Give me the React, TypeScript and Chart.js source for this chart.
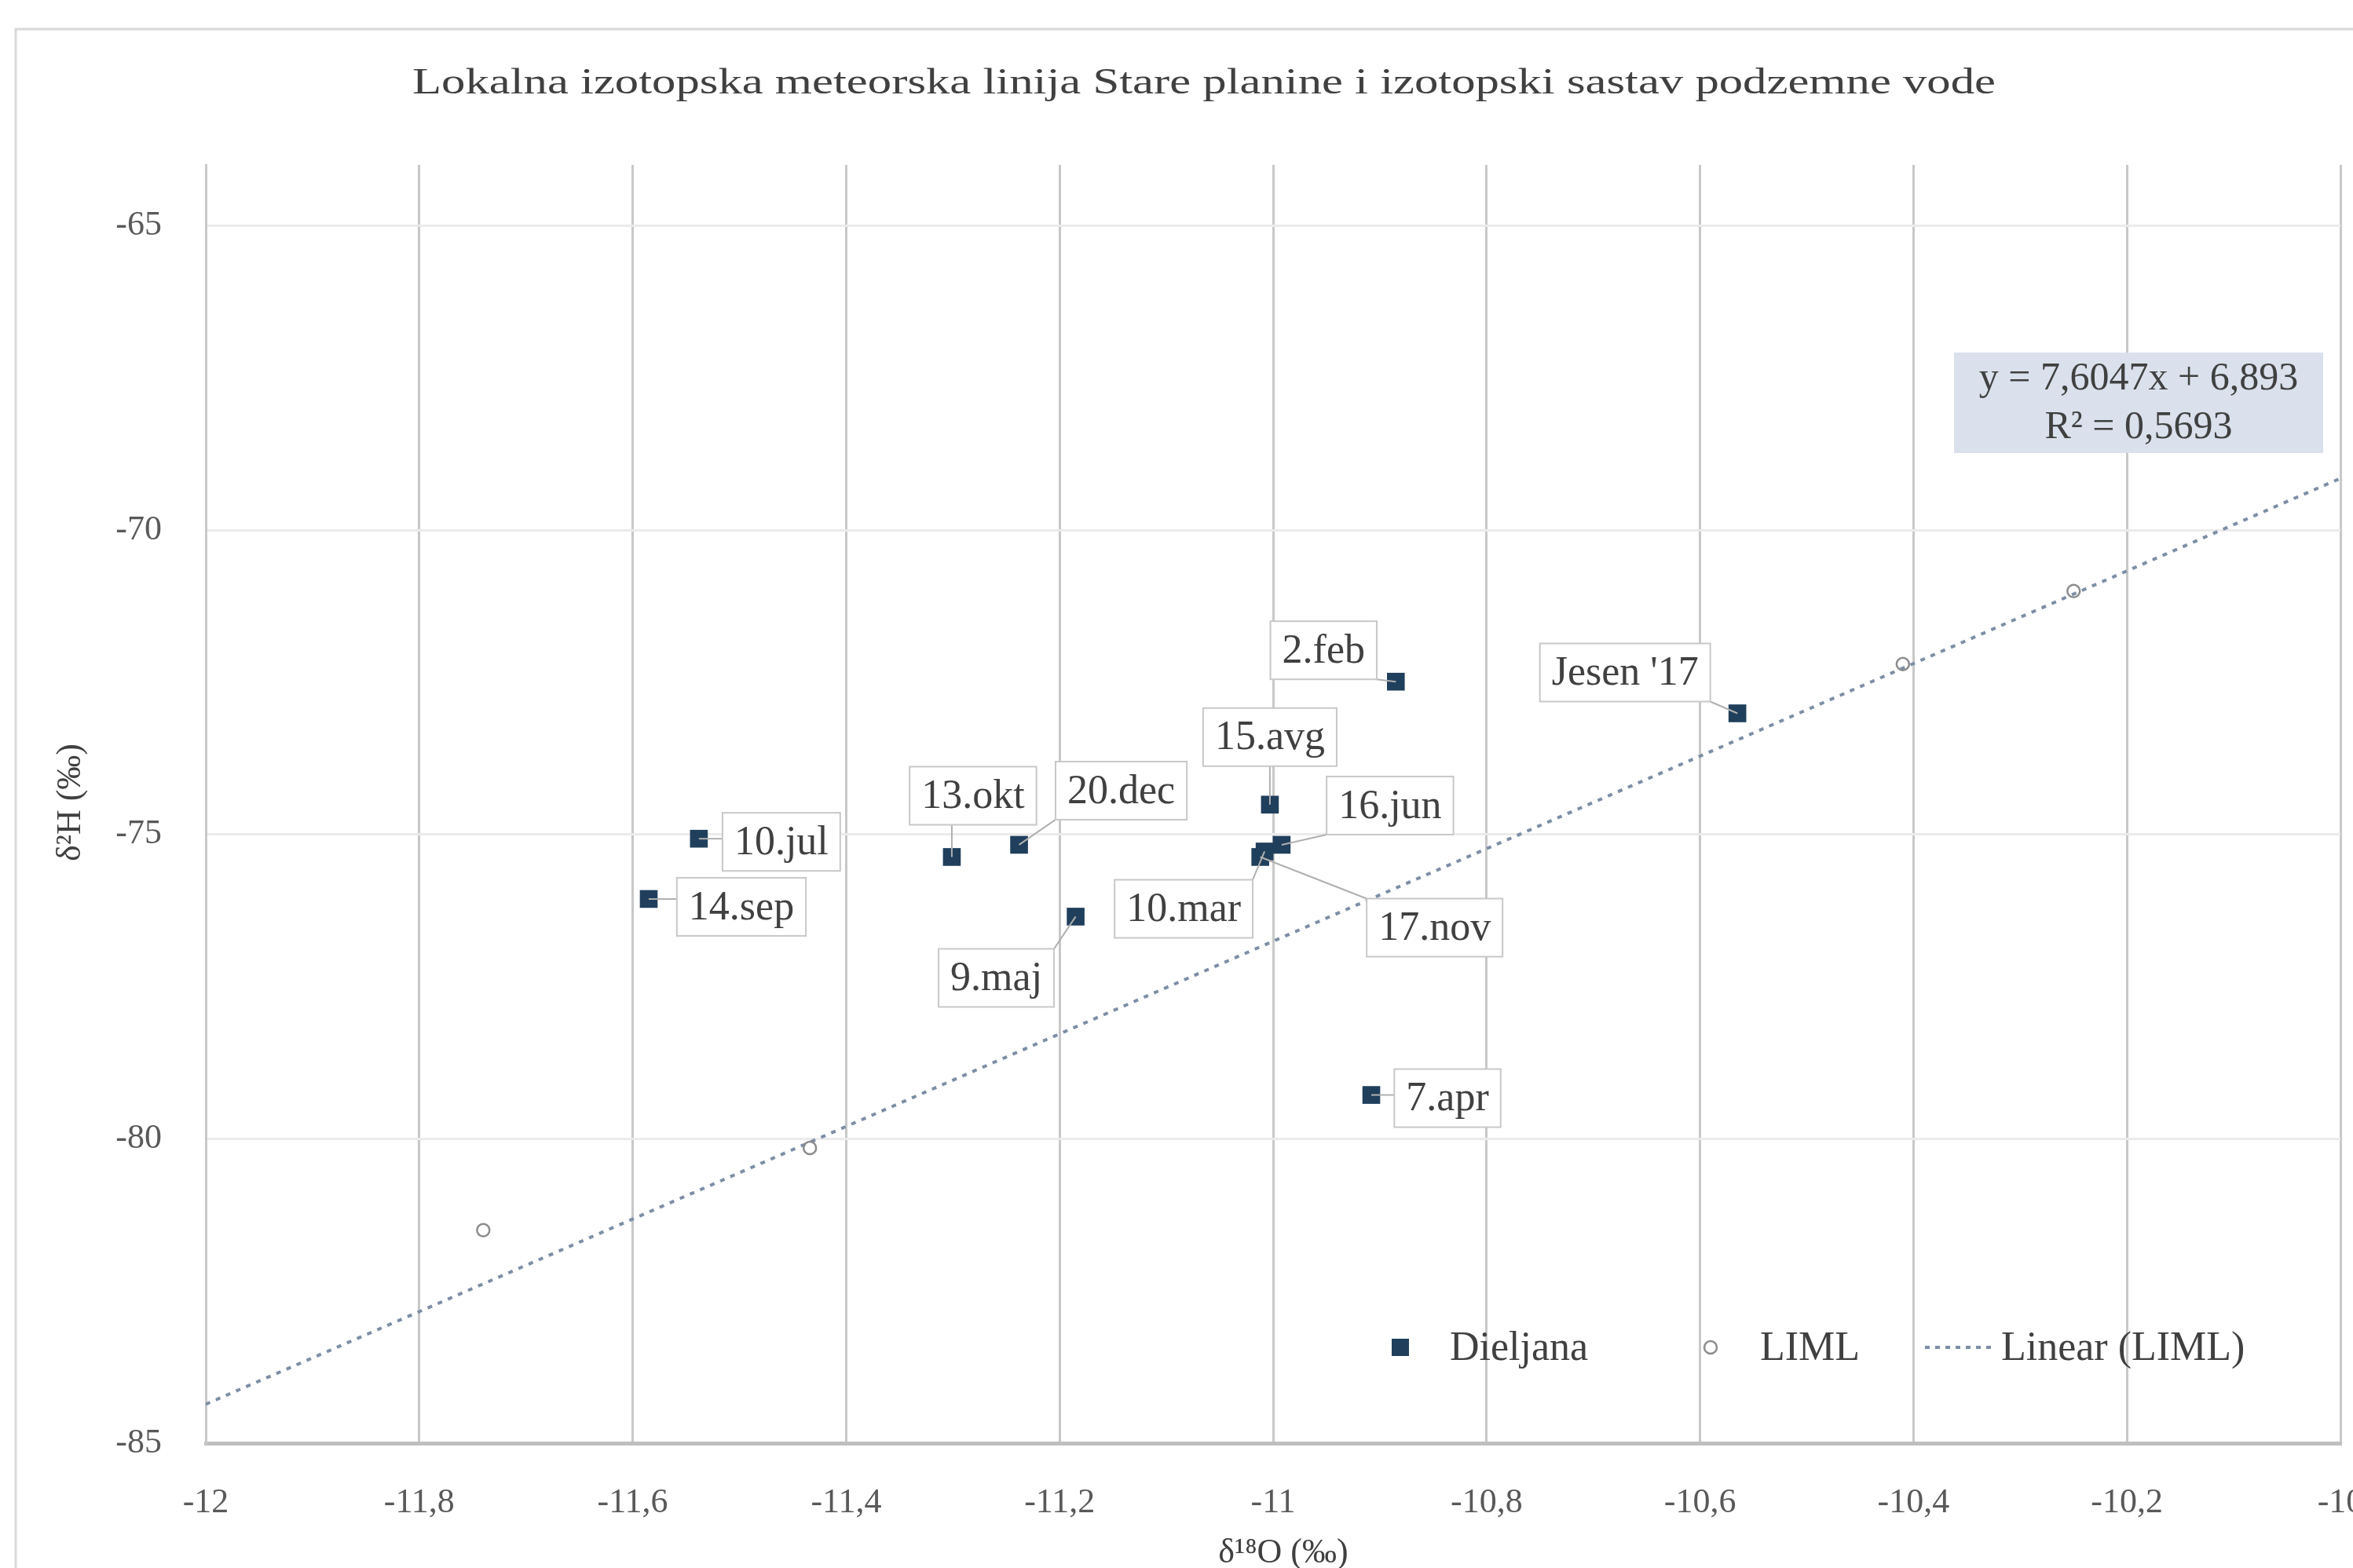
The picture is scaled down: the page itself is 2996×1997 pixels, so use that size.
import { useEffect, useRef } from "react";
import { Chart, registerables } from "chart.js";

Chart.register(...registerables);

// ---------- data ----------
const TITLE = "Lokalna izotopska meteorska linija Stare planine i izotopski sastav podzemne vode";
const X_TITLE = "δ¹⁸O (‰)";
const Y_TITLE = "δ²H (‰)";
const SERIES_A = "Dieljana";
const SERIES_B = "LIML";
const TREND_NAME = "Linear (LIML)";
const EQUATION = "y = 7,6047x + 6,893";
const R_SQUARED = "R² = 0,5693";

const sampleLabels = ["2.feb", "Jesen '17", "15.avg", "16.jun", "17.nov", "10.mar", "13.okt", "20.dec", "10.jul", "14.sep", "9.maj", "7.apr"];
const sampleO18 = [-10.885, -10.565, -11.003, -10.992, -11.012, -11.008, -11.301, -11.238, -11.538, -11.585, -11.185, -10.908];
const sampleH2 = [-72.49, -73.01, -74.51, -75.17, -75.37, -75.28, -75.37, -75.17, -75.07, -76.06, -76.35, -79.28];

const limlO18 = [-11.74, -11.434, -10.41, -10.25];
const limlH2 = [-81.5, -80.15, -72.2, -71.0];

const trendO18 = [-12, -10];
const trendH2 = [-84.36, -69.15];

const xTickValues = [-12, -11.8, -11.6, -11.4, -11.2, -11, -10.8, -10.6, -10.4, -10.2, -10];
const yTickValues = [-85, -80, -75, -70, -65];

// ---------- layout / style (not data) ----------
const W = 2996;
const H = 1997;
const SERIF = "'Liberation Serif', 'Times New Roman', serif";
const NAVY = "#203f5c";
const LIML_COLOR = "#8c8c8c";
const TREND_COLOR = "#7d8ea6";

// label box offsets in px from the marker (center of box)
const labelOffsets: [number, number][] = [
  [-92, -40], [-143, -52], [0, -86], [138, -50], [222, 90], [-103, 73],
  [27, -78], [130, -69], [105, 4], [118, 10], [-101, 78], [97, 4],
];

const fmt = (v: number) => String(Math.round(v * 10) / 10).replace(".", ",");

export default function App() {
  const ref = useRef<HTMLCanvasElement | null>(null);

  useEffect(() => {
    if (!ref.current) return;

    const frame = {
      id: "frame",
      beforeDraw(chart: any) {
        const ctx = chart.ctx;
        ctx.save();
        ctx.fillStyle = "#ffffff";
        ctx.fillRect(0, 0, W, H);
        ctx.strokeStyle = "#d9d9d9";
        ctx.lineWidth = 3;
        ctx.strokeRect(20, 37, W + 40, H + 40);
        // title, stretched to the reference width
        ctx.fillStyle = "#404040";
        ctx.font = `46px ${SERIF}`;
        ctx.textBaseline = "middle";
        ctx.textAlign = "center";
        const tw = ctx.measureText(TITLE).width;
        const target = 2016;
        ctx.translate(1533, 107);
        ctx.scale(target / tw, 1);
        ctx.fillText(TITLE, 0, 0);
        ctx.restore();
      },
    };

    const overlay = {
      id: "overlay",
      afterDatasetsDraw(chart: any) {
        const ctx = chart.ctx;
        const area = chart.chartArea;
        ctx.save();
        // data labels
        const meta = chart.getDatasetMeta(1);
        ctx.font = `52px ${SERIF}`;
        ctx.textAlign = "center";
        ctx.textBaseline = "middle";
        sampleLabels.forEach((lab, i) => {
          const el = meta.data[i];
          if (!el) return;
          const px = el.x;
          const py = el.y;
          const [dx, dy] = labelOffsets[i];
          const cx = px + dx;
          const cy = py + dy;
          const tw = ctx.measureText(lab).width;
          const bw = tw + 30;
          const bh = 74;
          const x0 = cx - bw / 2;
          const y0 = cy - bh / 2;
          // leader line
          const nx = Math.max(x0, Math.min(px, x0 + bw));
          const ny = Math.max(y0, Math.min(py, y0 + bh));
          const dist = Math.hypot(nx - px, ny - py);
          if (dist > 22) {
            ctx.strokeStyle = "#b0b0b0";
            ctx.lineWidth = 2;
            ctx.beginPath();
            ctx.moveTo(nx, ny);
            ctx.lineTo(px, py);
            ctx.stroke();
          }
          ctx.fillStyle = "#ffffff";
          ctx.fillRect(x0, y0, bw, bh);
          ctx.strokeStyle = "#c8c8c8";
          ctx.lineWidth = 2;
          ctx.strokeRect(x0, y0, bw, bh);
          ctx.fillStyle = "#404040";
          ctx.fillText(lab, cx, cy + 2);
        });

        // equation box
        ctx.fillStyle = "#dae0ec";
        ctx.fillRect(2488, 449, 470, 128);
        ctx.fillStyle = "#404040";
        ctx.font = `50px ${SERIF}`;
        ctx.fillText(EQUATION, 2723, 483);
        ctx.fillText(R_SQUARED, 2723, 545);

        // legend
        const ly = area.bottom - 122;
        ctx.font = `52px ${SERIF}`;
        ctx.textAlign = "left";
        ctx.fillStyle = NAVY;
        ctx.fillRect(1783 - 11, ly - 11, 22, 22);
        ctx.fillStyle = "#404040";
        ctx.fillText(SERIES_A, 1846, ly + 2);
        ctx.strokeStyle = LIML_COLOR;
        ctx.lineWidth = 2.5;
        ctx.beginPath();
        ctx.arc(2178, ly, 8, 0, Math.PI * 2);
        ctx.stroke();
        ctx.fillText(SERIES_B, 2241, ly + 2);
        ctx.strokeStyle = TREND_COLOR;
        ctx.lineWidth = 4;
        ctx.setLineDash([6, 7]);
        ctx.beginPath();
        ctx.moveTo(2451, ly);
        ctx.lineTo(2541, ly);
        ctx.stroke();
        ctx.setLineDash([]);
        ctx.fillText(TREND_NAME, 2548, ly + 2);

        // axis titles
        ctx.font = `44px ${SERIF}`;
        ctx.textAlign = "center";
        ctx.fillText(X_TITLE, 1634, 1978);
        ctx.translate(90, 1022);
        ctx.rotate(-Math.PI / 2);
        ctx.fillText(Y_TITLE, 0, 0);
        ctx.restore();
      },
    };

    const chart = new Chart(ref.current, {
      type: "scatter",
      data: {
        datasets: [
          {
            label: TREND_NAME,
            type: "line",
            data: trendO18.map((x, i) => ({ x, y: trendH2[i] })),
            borderColor: TREND_COLOR,
            borderWidth: 4,
            borderDash: [6, 8],
            pointRadius: 0,
            fill: false,
            order: 3,
          } as any,
          {
            label: SERIES_A,
            data: sampleO18.map((x, i) => ({ x, y: sampleH2[i] })),
            pointStyle: "rect",
            pointRadius: 16,
            backgroundColor: NAVY,
            borderColor: NAVY,
            borderWidth: 0,
            order: 1,
          },
          {
            label: SERIES_B,
            data: limlO18.map((x, i) => ({ x, y: limlH2[i] })),
            pointStyle: "circle",
            pointRadius: 8,
            backgroundColor: "rgba(255,255,255,0)",
            borderColor: LIML_COLOR,
            borderWidth: 2.5,
            order: 2,
          },
        ],
      },
      options: {
        animation: false,
        responsive: false,
        devicePixelRatio: 1,
        layout: { padding: { left: 0, right: 15, top: 210, bottom: 0 } },
        plugins: {
          legend: { display: false },
          title: { display: false },
          tooltip: { enabled: false },
        },
        scales: {
          x: {
            type: "linear",
            min: -12,
            max: -10,
            afterBuildTicks: (s: any) => {
              s.ticks = xTickValues.map((v) => ({ value: v }));
            },
            afterFit: (s: any) => {
              s.height = 159;
              s.paddingLeft = 0;
              s.paddingRight = 0;
            },
            ticks: {
              autoSkip: false,
              maxRotation: 0,
              padding: 50,
              color: "#595959",
              font: { family: SERIF, size: 44 },
              callback: (v: any) => fmt(Number(v)),
            },
            grid: { color: "#c8c8c8", lineWidth: 3, drawTicks: false },
            border: { color: "#bfbfbf", width: 5 },
          },
          y: {
            type: "linear",
            min: -85,
            max: -64,
            afterBuildTicks: (s: any) => {
              s.ticks = yTickValues.map((v) => ({ value: v }));
            },
            afterFit: (s: any) => {
              s.width = 262;
              s.paddingTop = 0;
              s.paddingBottom = 0;
            },
            ticks: {
              padding: 56,
              color: "#595959",
              font: { family: SERIF, size: 44 },
              callback: (v: any) => fmt(Number(v)),
            },
            grid: { color: "#ebebeb", lineWidth: 3, drawTicks: false },
            border: { color: "#c8c8c8", width: 3 },
          },
        },
      },
      plugins: [frame, overlay],
    });

    return () => chart.destroy();
  }, []);

  return (
    <div style={{ position: "absolute", left: 0, top: 0, width: W, height: H, background: "#fff" }}>
      <canvas ref={ref} width={W} height={H} style={{ display: "block", width: W, height: H }} />
    </div>
  );
}
